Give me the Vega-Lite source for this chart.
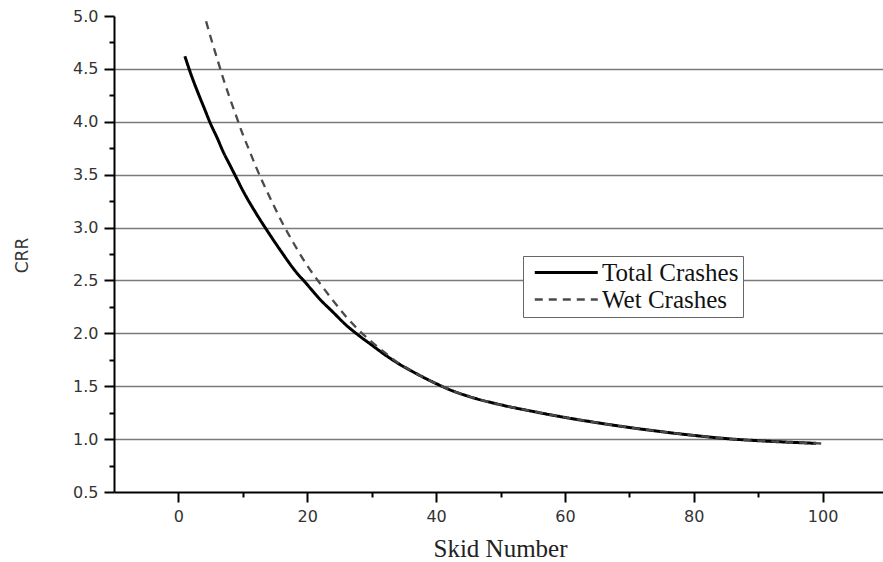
{
  "$schema": "https://vega.github.io/schema/vega-lite/v6.json",
  "width": 773,
  "height": 476,
  "autosize": "none",
  "padding": {"left": 114, "top": 16, "right": 0, "bottom": 70},
  "background": "white",
  "config": {"view": {"stroke": null}},
  "data": {
    "values": [
      {"series": "Total Crashes", "skid": 1, "crr": 4.62},
      {"series": "Total Crashes", "skid": 2, "crr": 4.44},
      {"series": "Total Crashes", "skid": 3, "crr": 4.28},
      {"series": "Total Crashes", "skid": 4, "crr": 4.13},
      {"series": "Total Crashes", "skid": 5, "crr": 3.98},
      {"series": "Total Crashes", "skid": 6, "crr": 3.85},
      {"series": "Total Crashes", "skid": 7, "crr": 3.71},
      {"series": "Total Crashes", "skid": 8, "crr": 3.59},
      {"series": "Total Crashes", "skid": 9, "crr": 3.47},
      {"series": "Total Crashes", "skid": 10, "crr": 3.35},
      {"series": "Total Crashes", "skid": 12, "crr": 3.14},
      {"series": "Total Crashes", "skid": 14, "crr": 2.95},
      {"series": "Total Crashes", "skid": 16, "crr": 2.77},
      {"series": "Total Crashes", "skid": 18, "crr": 2.6},
      {"series": "Total Crashes", "skid": 20, "crr": 2.46},
      {"series": "Total Crashes", "skid": 22, "crr": 2.32},
      {"series": "Total Crashes", "skid": 24, "crr": 2.2},
      {"series": "Total Crashes", "skid": 26, "crr": 2.08},
      {"series": "Total Crashes", "skid": 28, "crr": 1.98},
      {"series": "Total Crashes", "skid": 30, "crr": 1.89},
      {"series": "Total Crashes", "skid": 32, "crr": 1.8},
      {"series": "Total Crashes", "skid": 34, "crr": 1.72},
      {"series": "Total Crashes", "skid": 36, "crr": 1.65},
      {"series": "Total Crashes", "skid": 38, "crr": 1.585},
      {"series": "Total Crashes", "skid": 40, "crr": 1.525},
      {"series": "Total Crashes", "skid": 42, "crr": 1.47},
      {"series": "Total Crashes", "skid": 45, "crr": 1.405},
      {"series": "Total Crashes", "skid": 50, "crr": 1.325},
      {"series": "Total Crashes", "skid": 55, "crr": 1.262},
      {"series": "Total Crashes", "skid": 60, "crr": 1.205},
      {"series": "Total Crashes", "skid": 65, "crr": 1.155},
      {"series": "Total Crashes", "skid": 70, "crr": 1.11},
      {"series": "Total Crashes", "skid": 75, "crr": 1.07},
      {"series": "Total Crashes", "skid": 80, "crr": 1.035},
      {"series": "Total Crashes", "skid": 85, "crr": 1.005},
      {"series": "Total Crashes", "skid": 90, "crr": 0.985},
      {"series": "Total Crashes", "skid": 95, "crr": 0.97},
      {"series": "Total Crashes", "skid": 99, "crr": 0.96},
      {"series": "Wet Crashes", "skid": 4.3, "crr": 4.95},
      {"series": "Wet Crashes", "skid": 5, "crr": 4.8},
      {"series": "Wet Crashes", "skid": 6, "crr": 4.6},
      {"series": "Wet Crashes", "skid": 7, "crr": 4.4},
      {"series": "Wet Crashes", "skid": 8, "crr": 4.22},
      {"series": "Wet Crashes", "skid": 9, "crr": 4.05},
      {"series": "Wet Crashes", "skid": 10, "crr": 3.88},
      {"series": "Wet Crashes", "skid": 11, "crr": 3.73},
      {"series": "Wet Crashes", "skid": 12, "crr": 3.58},
      {"series": "Wet Crashes", "skid": 13, "crr": 3.44},
      {"series": "Wet Crashes", "skid": 14, "crr": 3.31},
      {"series": "Wet Crashes", "skid": 16, "crr": 3.06},
      {"series": "Wet Crashes", "skid": 18, "crr": 2.84},
      {"series": "Wet Crashes", "skid": 20, "crr": 2.64},
      {"series": "Wet Crashes", "skid": 22, "crr": 2.47},
      {"series": "Wet Crashes", "skid": 24, "crr": 2.31},
      {"series": "Wet Crashes", "skid": 26, "crr": 2.16},
      {"series": "Wet Crashes", "skid": 28, "crr": 2.03},
      {"series": "Wet Crashes", "skid": 30, "crr": 1.92},
      {"series": "Wet Crashes", "skid": 32, "crr": 1.82},
      {"series": "Wet Crashes", "skid": 34, "crr": 1.725},
      {"series": "Wet Crashes", "skid": 36, "crr": 1.65},
      {"series": "Wet Crashes", "skid": 38, "crr": 1.585},
      {"series": "Wet Crashes", "skid": 40, "crr": 1.525},
      {"series": "Wet Crashes", "skid": 42, "crr": 1.47},
      {"series": "Wet Crashes", "skid": 45, "crr": 1.405},
      {"series": "Wet Crashes", "skid": 50, "crr": 1.325},
      {"series": "Wet Crashes", "skid": 55, "crr": 1.262},
      {"series": "Wet Crashes", "skid": 60, "crr": 1.205},
      {"series": "Wet Crashes", "skid": 65, "crr": 1.155},
      {"series": "Wet Crashes", "skid": 70, "crr": 1.11},
      {"series": "Wet Crashes", "skid": 75, "crr": 1.07},
      {"series": "Wet Crashes", "skid": 80, "crr": 1.035},
      {"series": "Wet Crashes", "skid": 85, "crr": 1.005},
      {"series": "Wet Crashes", "skid": 90, "crr": 0.985},
      {"series": "Wet Crashes", "skid": 95, "crr": 0.97},
      {"series": "Wet Crashes", "skid": 100, "crr": 0.958}
    ]
  },
  "mark": {"type": "line", "interpolate": "monotone", "clip": true},
  "encoding": {
    "x": {
      "field": "skid",
      "type": "quantitative",
      "scale": {"domain": [-10, 110], "nice": false, "zero": false},
      "axis": {
        "title": "Skid Number",
        "titleFont": "Liberation Serif",
        "titleFontSize": 25,
        "titleFontWeight": "normal",
        "titleColor": "#222",
        "titleX": 386,
        "titleY": 64,
        "titleAnchor": null,
        "titleAlign": "center",
        "titleBaseline": "alphabetic",
        "values": [0, 10, 20, 30, 40, 50, 60, 70, 80, 90, 100],
        "labelExpr": "datum.value % 20 === 0 ? datum.label : ''",
        "labelFont": "DejaVu Sans",
        "labelFontSize": 16,
        "labelColor": "#333",
        "labelPadding": 6,
        "labelFlush": false,
        "labelOverlap": false,
        "tickSize": {"condition": {"test": "datum.value % 20 !== 0", "value": 5}, "value": 10},
        "tickColor": "#000",
        "tickWidth": 2,
        "domainColor": "#000",
        "domainWidth": 2,
        "grid": false
      }
    },
    "y": {
      "field": "crr",
      "type": "quantitative",
      "scale": {"domain": [0.5, 5.0], "nice": false, "zero": false},
      "axis": {
        "title": "CRR",
        "titleFont": "DejaVu Sans",
        "titleFontSize": 17,
        "titleFontWeight": "normal",
        "titleColor": "#333",
        "titleAngle": -90,
        "titleX": -92,
        "titleY": 239,
        "titleAlign": "center",
        "titleBaseline": "middle",
        "values": [0.5, 0.75, 1.0, 1.25, 1.5, 1.75, 2.0, 2.25, 2.5, 2.75, 3.0, 3.25, 3.5, 3.75, 4.0, 4.25, 4.5, 4.75, 5.0],
        "format": ".1f",
        "labelExpr": "(datum.value * 4) % 2 === 0 ? datum.label : ''",
        "labelFont": "DejaVu Sans",
        "labelFontSize": 16,
        "labelColor": "#333",
        "labelPadding": 6,
        "labelFlush": false,
        "labelOverlap": false,
        "tickSize": {"condition": {"test": "(datum.value * 4) % 2 !== 0", "value": 5}, "value": 10},
        "tickColor": "#000",
        "tickWidth": 2,
        "domainColor": "#000",
        "domainWidth": 2,
        "grid": true,
        "gridColor": "#7a7a7a",
        "gridWidth": 1.6,
        "gridOpacity": {"condition": {"test": "(datum.value * 4) % 2 !== 0 || datum.value >= 4.9 || datum.value <= 0.6", "value": 0}, "value": 1}
      }
    },
    "color": {
      "field": "series",
      "type": "nominal",
      "scale": {"domain": ["Total Crashes", "Wet Crashes"], "range": ["#000000", "#4a4a4a"]},
      "legend": {
        "title": null,
        "orient": "none",
        "legendX": 409,
        "legendY": 240,
        "padding": 4,
        "strokeColor": "#666",
        "fillColor": "white",
        "symbolType": "M-0.6,0H7.4",
        "symbolSize": 248,
        "symbolStrokeWidth": 3,
        "labelFont": "Liberation Serif",
        "labelFontSize": 25,
        "labelColor": "#111",
        "labelOffset": 50,
        "rowPadding": 1,
        "labelLimit": 300
      }
    },
    "strokeDash": {
      "field": "series",
      "type": "nominal",
      "scale": {"domain": ["Total Crashes", "Wet Crashes"], "range": [[1, 0], [8, 6]]}
    },
    "strokeWidth": {
      "field": "series",
      "type": "nominal",
      "scale": {"domain": ["Total Crashes", "Wet Crashes"], "range": [3, 2.3]}
    }
  }
}
